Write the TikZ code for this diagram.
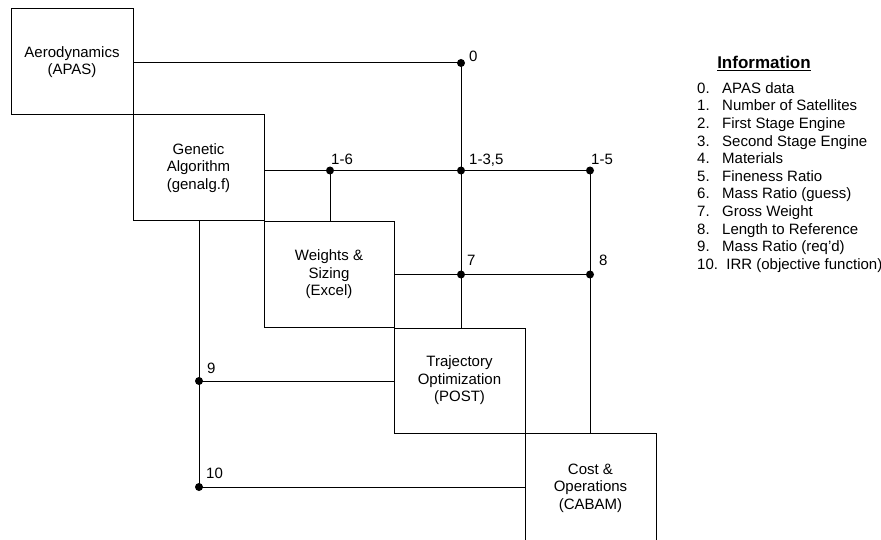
\documentclass[tikz,border=0pt]{standalone}
\usepackage{fontspec}
\setmainfont{Liberation Sans}
\begin{document}
\begin{tikzpicture}[x=1pt,y=-1pt,
  box/.style={draw, line width=1pt, rectangle, minimum height=106pt, inner sep=0pt, outer sep=0pt, align=center, font=\fontsize{15}{17.5}\selectfont},
  dot/.style={circle, fill, inner sep=0pt, minimum size=8pt},
  lbl/.style={anchor=base west, inner sep=0pt, font=\fontsize{15}{17.5}\selectfont},
  conn/.style={line width=1pt},
  legend/.style={anchor=base west, inner sep=0pt, font=\fontsize{15}{17.5}\selectfont}]
\useasboundingbox (0,0) rectangle (881,540);
\clip (0,0) rectangle (881,540);
% boxes
\node[box, minimum width=122pt] (aero) at (72,62) {Aerodynamics\\(APAS)};
\node[box, minimum width=131pt] (ga) at (198.5,168) {Genetic\\Algorithm\\(genalg.f)};
\node[box, minimum width=130pt] (ws) at (329,274.5) {Weights \&\\Sizing\\(Excel)};
\node[box, minimum width=131pt, minimum height=105pt] (traj) at (459.5,380.5) {Trajectory\\Optimization\\(POST)};
\node[box, minimum width=131pt, minimum height=110pt] (cost) at (590.5,488) {Cost \&\\Operations\\(CABAM)};
% junction dots
\node[dot] (d0) at (461,63) {};
\node[dot] (d16) at (330,170.5) {};
\node[dot] (d135) at (461,170.5) {};
\node[dot] (d15) at (590,170.5) {};
\node[dot] (d7) at (461,274.5) {};
\node[dot] (d8) at (590,274.5) {};
\node[dot] (d9) at (199,381) {};
\node[dot] (d10) at (199,487) {};
% connectors
\draw[conn] (d0 -| aero.east) -- (d0.center) -- (d0 |- traj.north);
\draw[conn] (d16 -| ga.east) -- (d15.center) -- (d15 |- cost.north);
\draw[conn] (d16.center) -- (d16 |- ws.north);
\draw[conn] (d8 -| ws.east) -- (d8.center);
\draw[conn] (d10 |- ga.south) -- (d10.center) -- (d10 -| cost.west);
\draw[conn] (d9.center) -- (d9 -| traj.west);
% labels
\node[lbl] (l0) at (469,61.4) {0};
\node[lbl] (l16) at (331,164.4) {1-6};
\node[lbl] (l135) at (469,164.4) {1-3,5};
\node[lbl] (l15) at (591,164.4) {1-5};
\node[lbl] (l7) at (467,265.4) {7};
\node[lbl] (l8) at (599,265.4) {8};
\node[lbl] (l9) at (207,373.4) {9};
\node[lbl] (l10) at (206,478.4) {10};
% legend
\node[anchor=base, inner sep=0pt, font=\fontsize{17}{20}\selectfont\bfseries] (info) at (764,69) {\underline{Information}};
\foreach \i/\t in {0/{APAS data},1/{Number of Satellites},2/{First Stage Engine},3/{Second Stage Engine},4/{Materials},5/{Fineness Ratio},6/{Mass Ratio (guess)},7/{Gross Weight},8/{Length to Reference},9/{Mass Ratio (req'd)}}
  \node[legend] (leg\i) at (697,93.4+17.6*\i) {\makebox[25pt][l]{\i.}\t};
\node[legend] (leg10) at (697,93.4+17.6*10) {10.\ \ IRR (objective function)};
\end{tikzpicture}
\end{document}
